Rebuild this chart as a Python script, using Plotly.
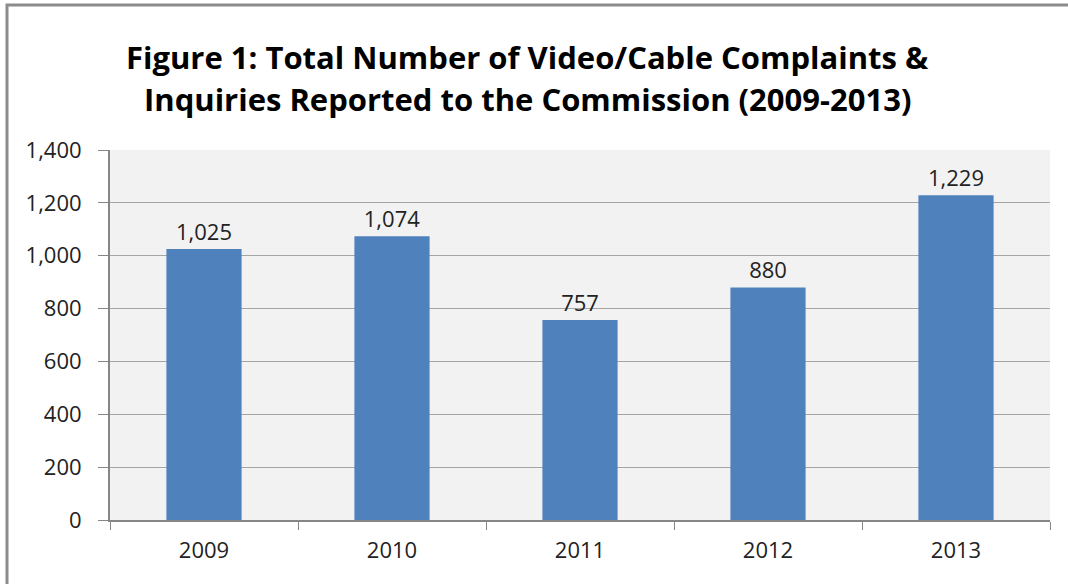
import plotly.graph_objects as go

years = ["2009", "2010", "2011", "2012", "2013"]
values = [1025, 1074, 757, 880, 1229]
y_ticks = [0, 200, 400, 600, 800, 1000, 1200, 1400]
title_lines = ["Figure 1: Total Number of Video/Cable Complaints &",
               "Inquiries Reported to the Commission (2009-2013)"]

FONT = "Open Sans"
W, H = 1068, 584
L, R, T, B = 110, 18, 150, 64
pw, ph = W - L - R, H - T - B

fig = go.Figure()
fig.add_trace(go.Bar(
    x=years, y=values,
    marker=dict(color="#4f81bd", line=dict(width=0)),
    text=[f"{v:,}" for v in values],
    textposition="outside",
    textfont=dict(family=FONT, size=22, color="#222222"),
    cliponaxis=False,
    width=0.4,
))

fig.update_layout(
    width=W, height=H,
    margin=dict(l=L, r=R, t=T, b=B),
    paper_bgcolor="white",
    plot_bgcolor="#f2f2f2",
    showlegend=False,
    font=dict(family=FONT, size=22, color="#222222"),
    xaxis=dict(
        type="category", tickson="boundaries", ticks="outside", ticklen=8,
        tickcolor="#868686", showline=True, linecolor="#868686", linewidth=2,
        showgrid=False, tickfont=dict(family=FONT, size=22, color="#222222"),
        ticklabelstandoff=10,
    ),
    yaxis=dict(
        range=[0, 1400], tickvals=y_ticks,
        ticktext=[f"{v:,}" for v in y_ticks],
        ticks="outside", ticklen=10, tickcolor="#868686",
        showline=True, linecolor="#868686", linewidth=2,
        showgrid=True, gridcolor="#a6a6a6", gridwidth=1,
        zeroline=False, tickfont=dict(family=FONT, size=22, color="#222222"),
        ticklabelstandoff=12,
    ),
    bargap=0.6,
)

# title lines
for i, (line, ypix) in enumerate(zip(title_lines, [57, 99])):
    fig.add_annotation(
        text=f"<b>{line}</b>", xref="paper", yref="paper",
        x=(527 - L) / pw, y=(H - B - ypix) / ph,
        showarrow=False, xanchor="center", yanchor="middle",
        font=dict(family=FONT, size=31, color="#000000"),
    )

# chart border
fig.add_shape(
    type="rect", xref="paper", yref="paper",
    x0=(7 - L) / pw, x1=(1080 - L) / pw,
    y0=(H - B - 600) / ph, y1=(H - B - 5) / ph,
    line=dict(color="#8c8c8c", width=3), fillcolor="rgba(0,0,0,0)", layer="above",
)

fig.write_html("out.html")
